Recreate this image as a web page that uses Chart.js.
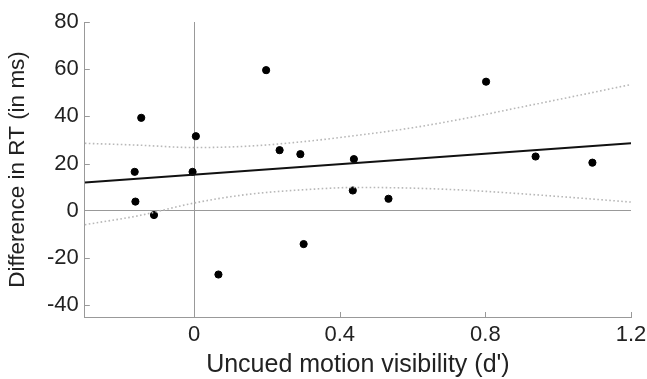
<!DOCTYPE html>
<html>
<head>
<meta charset="utf-8">
<script src="https://cdn.jsdelivr.net/npm/chart.js@4/dist/chart.umd.min.js"></script>
<style>
  html, body { margin: 0; padding: 0; background: #fff; }
  #wrap { width: 647px; height: 379px; }
</style>
</head>
<body>
<div id="wrap"><canvas id="grafico"></canvas></div>
<script>
// pontos (d', diferenca em ms)
var visibilidade = [-0.145, 0.005, -0.163, -0.004, -0.161, -0.11, 0.067, 0.198, 0.235, 0.292, 0.439, 0.436, 0.534, 0.301, 0.802, 0.938, 1.094]
var diferenca = [39.4, 31.6, 16.5, 16.5, 3.9, -1.8, -27, 59.6, 25.7, 24.0, 21.9, 8.6, 5.1, -14.1, 54.7, 23.0, 20.4]

// reta de regressao (extremos)
var retaX = [-0.3, 1.2]
var retaY = [12.0, 28.6]

// intervalo de confianca
var bandaX = [-0.3, -0.15, 0, 0.15, 0.3, 0.45, 0.6, 0.75, 0.9, 1.05, 1.2]
var bandaSup = [28.6, 27.8, 26.8, 27.4, 29.3, 32.0, 35.2, 39.3, 44.0, 48.7, 53.5]
var bandaInf = [-5.9, -2.0, 3.3, 7.0, 8.9, 9.9, 9.6, 8.7, 7.2, 5.5, 3.7]

var ticksX = [0, 0.4, 0.8, 1.2]
var ticksY = [-40, -20, 0, 20, 40, 60, 80]

function pares(xs, ys) {
    var out = []
    for (let i = 0; i < xs.length; i++) {
        out.push({ x: xs[i], y: ys[i] })
    }
    return out
}

// marquinhas dos ticks para dentro, como no original
const ticksDentro = {
    id: 'ticksDentro',
    afterDraw(chart) {
        var ctx = chart.ctx
        var sx = chart.scales.x
        var sy = chart.scales.y
        var area = chart.chartArea
        ctx.save()
        ctx.strokeStyle = '#999'
        ctx.lineWidth = 1
        ctx.beginPath()
        ticksX.forEach(function (v) {
            if (v == 0) return
            var px = Math.round(sx.getPixelForValue(v)) + 0.5
            ctx.moveTo(px, area.bottom)
            ctx.lineTo(px, area.bottom - 5)
        })
        ticksY.forEach(function (v) {
            if (v == 0) return
            var py = Math.round(sy.getPixelForValue(v)) + 0.5
            ctx.moveTo(area.left, py)
            ctx.lineTo(area.left + 5, py)
        })
        ctx.stroke()
        ctx.restore()
    }
}

const familia = 'Liberation Sans, Arial, sans-serif'

const config = {
    type: 'scatter',
    data: {
        datasets: [{
            label: 'sup',
            type: 'line',
            data: pares(bandaX, bandaSup),
            borderColor: '#b8b8b8',
            borderWidth: 1.6,
            borderDash: [1.6, 2.4],
            pointRadius: 0,
            cubicInterpolationMode: 'monotone',
            fill: false
        }, {
            label: 'inf',
            type: 'line',
            data: pares(bandaX, bandaInf),
            borderColor: '#b8b8b8',
            borderWidth: 1.6,
            borderDash: [1.6, 2.4],
            pointRadius: 0,
            cubicInterpolationMode: 'monotone',
            fill: false
        }, {
            label: 'reta',
            type: 'line',
            data: pares(retaX, retaY),
            borderColor: '#111',
            borderWidth: 2,
            pointRadius: 0,
            fill: false
        }, {
            label: 'pontos',
            data: pares(visibilidade, diferenca),
            backgroundColor: '#000',
            borderColor: '#000',
            pointRadius: 3.6,
            pointHoverRadius: 3.6
        }]
    },
    options: {
        responsive: true,
        maintainAspectRatio: false,
        animation: false,
        layout: { padding: { top: 22, right: 16, left: 4, bottom: 1 } },
        plugins: {
            legend: { display: false },
            tooltip: { enabled: false }
        },
        scales: {
            x: {
                type: 'linear',
                min: -0.3,
                max: 1.2,
                afterBuildTicks: function (scale) {
                    scale.ticks = ticksX.map(function (v) { return { value: v } })
                },
                afterFit: function (scale) {
                    scale.paddingRight = 0
                    scale.paddingLeft = 0
                },
                ticks: {
                    color: '#222',
                    font: { family: familia, size: 22, lineHeight: 1 },
                    padding: 7,
                    maxRotation: 0,
                    callback: function (v) { return String(v) }
                },
                grid: {
                    drawTicks: false,
                    color: function (c) { return c.tick && c.tick.value == 0 ? '#999' : 'rgba(0,0,0,0)' }
                },
                border: { color: '#999' },
                title: {
                    display: true,
                    text: "Uncued motion visibility (d')",
                    color: '#222',
                    font: { family: familia, size: 25, lineHeight: 1 },
                    padding: { top: 0, bottom: 0 }
                }
            },
            y: {
                type: 'linear',
                min: -45,
                max: 80,
                afterBuildTicks: function (scale) {
                    scale.ticks = ticksY.map(function (v) { return { value: v } })
                },
                ticks: {
                    color: '#222',
                    font: { family: familia, size: 22 },
                    padding: 6
                },
                grid: {
                    drawTicks: false,
                    color: function (c) { return c.tick && c.tick.value == 0 ? '#999' : 'rgba(0,0,0,0)' }
                },
                border: { color: '#999' },
                title: {
                    display: true,
                    text: 'Difference in RT (in ms)',
                    color: '#222',
                    font: { family: familia, size: 22.5 },
                    padding: { top: 0, bottom: 10 }
                }
            }
        }
    },
    plugins: [ticksDentro]
}

const grafico = new Chart(document.getElementById('grafico'), config)
</script>
</body>
</html>
